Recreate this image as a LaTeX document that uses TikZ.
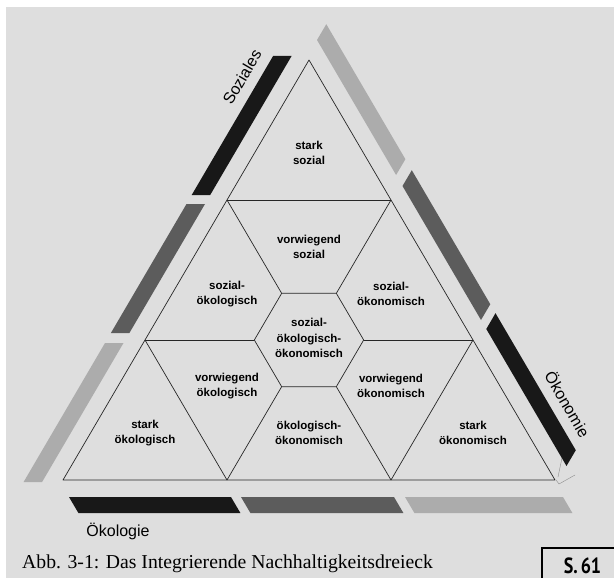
\documentclass[tikz,border=0pt]{standalone}
\usepackage{fontspec}
\setmainfont{Liberation Serif}
\setsansfont{Liberation Sans}
\newfontfamily\pagefont{PT Sans}
\usepackage{tikz}
\usetikzlibrary{positioning}
\definecolor{paper}{RGB}{222,222,222}
\definecolor{barA}{RGB}{24,24,24}
\definecolor{barB}{RGB}{92,92,92}
\definecolor{barC}{RGB}{172,172,172}

\begin{document}
\begin{tikzpicture}[x=1pt, y=-1pt]
    \tikzstyle{field}=[align=center, inner sep=0pt, font=\sffamily\bfseries\fontsize{11.5}{15.5}\selectfont]
    \tikzstyle{side}=[inner sep=0pt, font=\sffamily\fontsize{16}{18}\selectfont]
    \tikzstyle{edge}=[black!85, line width=0.7pt, line join=round]
    \useasboundingbox (0,0) rectangle (614,578);
    \fill[white] (0,0) rectangle (614,578);
    \fill[paper] (6,7) rectangle (614,578);
    % corners and thirds of the triangle
    \coordinate (A) at (309,60);
    \coordinate (B) at (63,480);
    \coordinate (C) at (555,480);
    \coordinate (L1) at (227,200);
    \coordinate (R1) at (391,200);
    \coordinate (L2) at (145,340);
    \coordinate (R2) at (473,340);
    \coordinate (B1) at (227,480);
    \coordinate (B2) at (391,480);
    % middle hexagon
    \coordinate (h1) at (281.67,293.33);
    \coordinate (h2) at (336.33,293.33);
    \coordinate (h3) at (363.67,340);
    \coordinate (h4) at (336.33,386.67);
    \coordinate (h5) at (281.67,386.67);
    \coordinate (h6) at (254.33,340);
    \draw[edge] (A) -- (B) -- (C) -- cycle;
    \draw[edge] (h1) -- (h2) -- (h3) -- (h4) -- (h5) -- (h6) -- cycle;
    \draw[edge] (L1) -- (R1);
    \draw[edge] (L1) -- (h1);
    \draw[edge] (R1) -- (h2);
    \draw[edge] (L2) -- (h6);
    \draw[edge] (R2) -- (h3);
    \draw[edge] (B1) -- (h5);
    \draw[edge] (B2) -- (h4);
    \draw[edge] (L2) -- (B1);
    \draw[edge] (R2) -- (B2);
    \draw[black!45, line width=0.4pt] (556,480) -- (559,484) -- (575,475);
    \draw[black!45, line width=0.4pt] (562,458) -- (558,477);
    % the nine fields
    \node[field] (sS) at (309,153) {stark\\sozial};
    \node[field] (vS) at (309,247) {vorwiegend\\sozial};
    \node[field] (sOe) at (227,294) {sozial-\\ökologisch};
    \node[field] (sOk) at (391,294) {sozial-\\ökonomisch};
    \node[field] (sOeOk) at (309,338) {sozial-\\ökologisch-\\ökonomisch};
    \node[field] (vOe) at (227,386) {vorwiegend\\ökologisch};
    \node[field] (vOk) at (391,386) {vorwiegend\\ökonomisch};
    \node[field] (stOe) at (145,433) {stark\\ökologisch};
    \node[field] (oeOk) at (309,433) {ökologisch-\\ökonomisch};
    \node[field] (stOk) at (473,433) {stark\\ökonomisch};
    % bars along the sides
    \fill[barA] (291.6,56) -- (273.1,56) -- (191.7,195) -- (210.2,195) -- cycle;
    \fill[barB] (205.0,204) -- (186.5,204) -- (110.9,333) -- (129.4,333) -- cycle;
    \fill[barC] (123.5,343) -- (105.0,343) -- (23.6,482) -- (42.1,482) -- cycle;
    \fill[barA] (69,497) -- (231,497) -- (240.4,513) -- (78.4,513) -- cycle;
    \fill[barB] (241,497) -- (394,497) -- (403.4,513) -- (250.4,513) -- cycle;
    \fill[barC] (405,497) -- (563,497) -- (572.4,513) -- (414.4,513) -- cycle;
    \fill[barC] (317.0,40) -- (326.3,24.2) -- (405.4,159.2) -- (396.1,175) -- cycle;
    \fill[barB] (402.5,186) -- (411.8,170.2) -- (490.3,304.2) -- (481.0,320) -- cycle;
    \fill[barA] (486.3,329) -- (495.5,313.2) -- (575.8,450.2) -- (566.5,466) -- cycle;
    \node[side, rotate=59.6] (soz) at (242,77) {Soziales};
    \node[side, rotate=-59.6] (oek) at (568,404) {Ökonomie};
    \node[side] (oeko) at (118,531) {Ökologie};
    % caption and page number
    \node[anchor=base west, inner sep=0pt, font=\fontsize{19.7}{21}\selectfont] (cap) at (22,568) {Abb. 3-1: Das Integrierende Nachhaltigkeitsdreieck};
    \draw[line width=1.5pt] (542,548) rectangle (630,590);
    \node[anchor=base, inner sep=0pt, font=\pagefont\bfseries\fontsize{22}{24}\selectfont] (pg) at (582.5,573) {\scalebox{0.82}[1]{S.\,61}};
\end{tikzpicture}
\end{document}
